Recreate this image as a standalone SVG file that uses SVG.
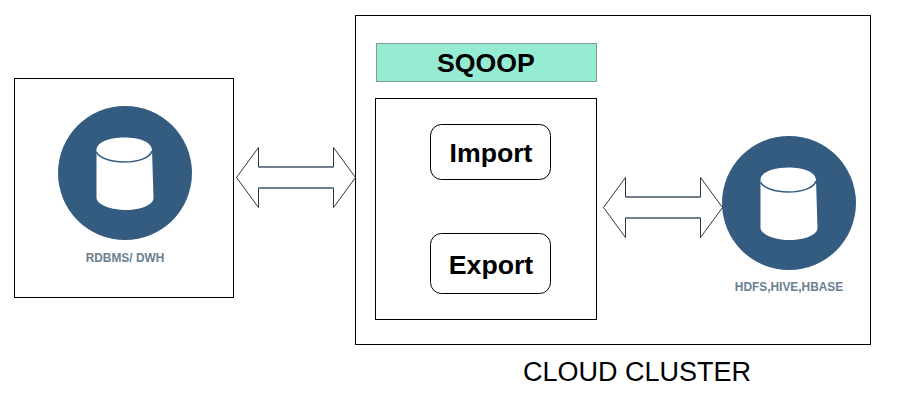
<svg xmlns="http://www.w3.org/2000/svg" width="897" height="419" viewBox="0 0 897 419">
<defs>
<style>
.box{fill:#fff;stroke:#000;stroke-width:1}
.arrow{fill:#fff;stroke:#000;stroke-width:.8}
.bar{fill:none;stroke:#67798a;stroke-width:1.4}
.disc{fill:#345c80}
.cyl{fill:#fff}
.rim{fill:none;stroke:#345c80;stroke-width:1.6}
.cap{font-family:"Liberation Sans",Arial,sans-serif;font-size:11.9px;font-weight:700;fill:#6b7f91;text-anchor:middle}
.op{font-family:"Liberation Sans",Arial,sans-serif;font-size:26.700px;font-weight:700;fill:#000;text-anchor:middle}
.pill{fill:#fff;stroke:#000;stroke-width:1}
</style>
</defs>
<rect width="897" height="419" fill="#fff"/>
<g id="rdbms">
<rect class="box" x="14.500" y="78.500" width="219" height="219"/>
<circle class="disc" cx="125" cy="173" r="67"/>
<path class="cyl" d="M96.500 150 C96.500 142 110 137.500 124.500 137.500 C139 137.500 152 142 152 150 L153.500 198 C153.500 205 140 210 126 210 C112 210 97 205 96.500 198 Z"/>
<path class="rim" d="M96.500 152 C99 158 111 162 124.500 162 C138 162 150 158 152 151"/>
<text class="cap" x="125" y="262">RDBMS/ DWH</text>
</g>
<g id="cluster">
<rect class="box" x="355.500" y="15.500" width="515" height="329"/>
<text x="637" y="381" font-family="'Liberation Sans',Arial,sans-serif" font-size="27" fill="#000" text-anchor="middle">CLOUD CLUSTER</text>
</g>
<g id="sqoop">
<rect x="376.500" y="43.500" width="220" height="38" fill="#95ecd3" stroke="#7f9c96" stroke-width="1"/>
<text class="op" x="486" y="71.500">SQOOP</text>
</g>
<g id="panel">
<rect class="box" x="375.500" y="98.500" width="221" height="221"/>
</g>
<g id="import">
<rect class="pill" x="430.500" y="124.500" width="120" height="55" rx="11"/>
<text class="op" x="491" y="162">Import</text>
</g>
<g id="export">
<rect class="pill" x="430.500" y="233.500" width="120" height="60" rx="11"/>
<text class="op" x="491" y="274">Export</text>
</g>
<g id="hdfs">
<circle class="disc" cx="789" cy="203" r="67"/>
<path class="cyl" d="M760.500 180 C760.500 172 774 167.500 788.500 167.500 C803 167.500 816 172 816 180 L817.500 228 C817.500 235 804 240 790 240 C776 240 761 235 760.500 228 Z"/>
<path class="rim" d="M760.500 182 C763 188 775 192 788.500 192 C802 192 814 188 816 181"/>
<text class="cap" x="789" y="291">HDFS,HIVE,HBASE</text>
</g>
<g id="connectors">
<path class="arrow" d="M236.500 177.500 L258.500 147.500 L258.500 167 L333.500 167 L333.500 147.500 L355.500 177.500 L333.500 207.500 L333.500 188 L258.500 188 L258.500 207.500 Z"/>
<path class="bar" d="M258.500 167 H333.500 M258.500 188 H333.500"/>
<path class="arrow" d="M603.500 207.500 L625.500 177.500 L625.500 197 L700.500 197 L700.500 177.500 L722.500 207.500 L700.500 237.500 L700.500 218 L625.500 218 L625.500 237.500 Z"/>
<path class="bar" d="M625.500 197 H700.500 M625.500 218 H700.500"/>
</g>
</svg>
